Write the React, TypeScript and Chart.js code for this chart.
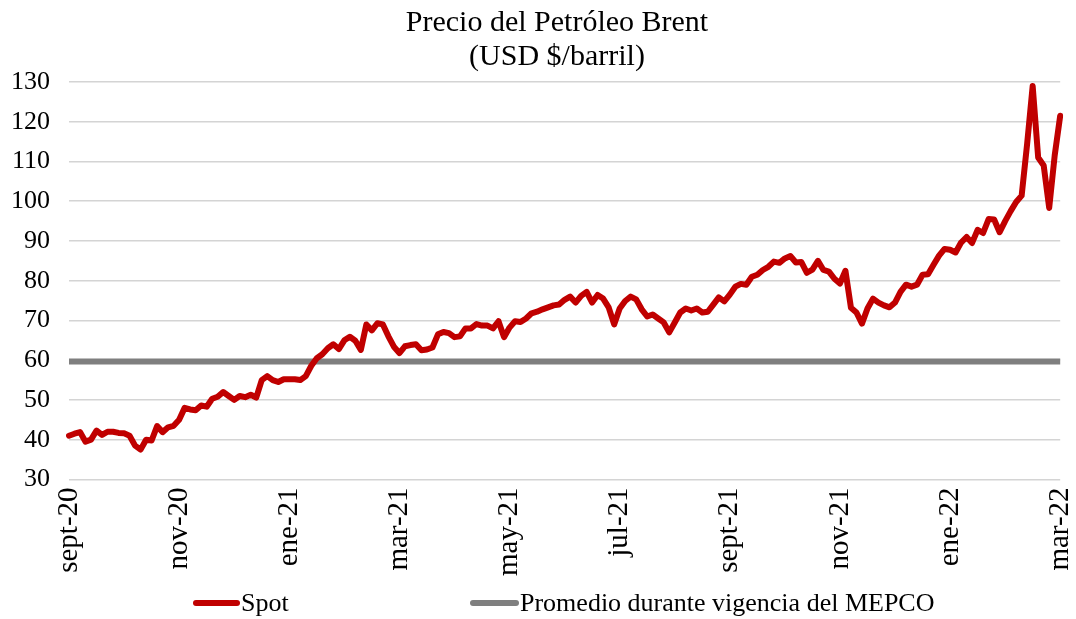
import React, { useEffect, useRef } from "react";
import { Chart, registerables } from "chart.js";

Chart.register(...registerables);

const titleLines = ["Precio del Petróleo Brent", "(USD $/barril)"];
const tickLabels = ["sept-20", "nov-20", "ene-21", "mar-21", "may-21", "jul-21", "sept-21", "nov-21", "ene-22", "mar-22"];
const pointsPerTick = 20;
const spotLabel = "Spot";
const mepcoLabel = "Promedio durante vigencia del MEPCO";

const spot = [
  41.0, 41.5, 41.9, 39.5, 40.0, 42.3, 41.2, 42.0, 42.0, 41.7,
  41.6, 41.0, 38.5, 37.5, 40.0, 39.8, 43.4, 41.9, 43.1, 43.5,
  45.0, 48.0, 47.6, 47.4, 48.6, 48.3, 50.3, 50.8, 52.0, 51.0,
  50.0, 51.0, 50.7, 51.3, 50.6, 55.0, 56.0, 55.0, 54.5, 55.2,
  55.2, 55.2, 55.0, 56.0, 58.6, 60.5, 61.5, 63.0, 64.0, 62.8,
  65.0, 65.9, 64.9, 62.6, 69.0, 67.5, 69.3, 69.0, 66.0, 63.4,
  61.8, 63.5, 63.8, 64.0, 62.5, 62.7, 63.2, 66.5, 67.1, 66.8,
  65.8, 66.0, 68.0, 68.0, 69.1, 68.7, 68.7, 68.0, 69.8, 65.8,
  68.2, 69.8, 69.6, 70.5, 71.8, 72.2, 72.8, 73.3, 73.8, 74.0,
  75.2, 76.0, 74.5, 76.2, 77.2, 74.5, 76.4, 75.5, 73.3, 69.0,
  73.0, 74.9, 76.0, 75.3, 72.8, 71.0, 71.5, 70.5, 69.5, 67.0,
  69.5, 72.0, 73.0, 72.5, 73.0, 72.0, 72.2, 74.0, 75.8, 74.8,
  76.5, 78.5, 79.2, 79.0, 81.0, 81.5, 82.7, 83.5, 84.8, 84.5,
  85.6, 86.2, 84.6, 84.7, 82.0, 82.8, 85.0, 82.7, 82.3, 80.5,
  79.3, 82.5, 73.2, 72.0, 69.2, 73.0, 75.5, 74.5, 73.8, 73.3,
  74.5, 77.2, 79.0, 78.5, 79.0, 81.5, 81.6, 84.0, 86.3, 88.0,
  87.8, 87.1, 89.6, 91.0, 89.5, 92.8, 92.0, 95.5, 95.4, 92.2,
  95.0, 97.5, 99.8, 101.4, 114.5, 129.0, 111.0, 109.0, 98.3, 111.5,
  121.5,
];
const mepcoAverage = 59.7;

const yMin = 30;
const yMax = 130;
const yStep = 10;

const FONT = "'Liberation Serif', 'Times New Roman', serif";
const RED = "#c00000";
const GRAY = "#7f7f7f";

export default function App() {
  const canvasRef = useRef<HTMLCanvasElement | null>(null);

  useEffect(() => {
    const canvas = canvasRef.current;
    if (!canvas) return;
    const labels = spot.map((_, i) => (i % pointsPerTick === 0 ? tickLabels[i / pointsPerTick] ?? "" : ""));
    const mepco = spot.map(() => mepcoAverage);
    const chart = new Chart(canvas, {
      type: "line",
      data: {
        labels,
        datasets: [
          {
            label: spotLabel,
            data: spot,
            borderColor: RED,
            backgroundColor: RED,
            borderWidth: 6,
            pointRadius: 0,
            tension: 0,
            borderJoinStyle: "round",
            borderCapStyle: "round",
            order: 1,
          },
          {
            label: mepcoLabel,
            data: mepco,
            borderColor: GRAY,
            backgroundColor: GRAY,
            borderWidth: 6,
            pointRadius: 0,
            tension: 0,
            order: 2,
          },
        ],
      },
      options: {
        responsive: false,
        animation: false,
        layout: { padding: { top: 82, left: 8, right: 0, bottom: 8 } },
        plugins: {
          legend: { display: false },
          title: { display: false },
          tooltip: { enabled: false },
        },
        scales: {
          x: {
            type: "category",
            offset: false,
            grid: { display: false, drawTicks: false },
            border: { display: false },
            ticks: {
              autoSkip: false,
              maxRotation: 90,
              minRotation: 90,
              padding: 8,
              color: "#000",
              font: { family: FONT, size: 29 },
            },
          },
          y: {
            min: yMin,
            max: yMax,
            grid: { color: "#d4d4d4", lineWidth: 1.5, drawTicks: false },
            border: { display: false },
            ticks: {
              stepSize: yStep,
              padding: 19,
              color: "#000",
              font: { family: FONT, size: 26 },
            },
          },
        },
      },
    });
    return () => chart.destroy();
  }, []);

  const textStyle: React.CSSProperties = {
    position: "absolute",
    fontFamily: FONT,
    color: "#000",
    whiteSpace: "nowrap",
  };

  return (
    <div style={{ position: "absolute", left: 0, top: 0, width: 1076, height: 619, background: "#fff", overflow: "hidden" }}>
      <canvas ref={canvasRef} width={1119} height={592} style={{ position: "absolute", left: -16, top: 0 }} />
      {titleLines.map((t, i) => (
        <div key={t} style={{ ...textStyle, left: 307, width: 500, textAlign: "center", top: 4 + i * 34, fontSize: 30, lineHeight: "34px" }}>
          {t}
        </div>
      ))}
      <div style={{ position: "absolute", left: 193, top: 600, width: 47, height: 6, background: RED, borderRadius: 3 }} />
      <div style={{ ...textStyle, left: 241, top: 589, fontSize: 26, lineHeight: "28px" }}>{spotLabel}</div>
      <div style={{ position: "absolute", left: 470, top: 600, width: 49, height: 6, background: GRAY, borderRadius: 3 }} />
      <div style={{ ...textStyle, left: 520, top: 589, fontSize: 26, lineHeight: "28px" }}>{mepcoLabel}</div>
    </div>
  );
}
